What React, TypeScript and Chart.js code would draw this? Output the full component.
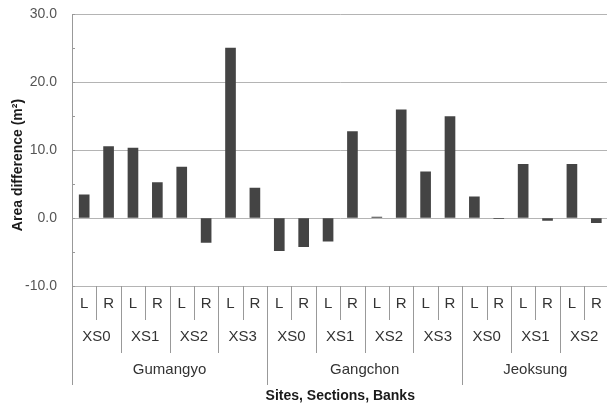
import React, { useEffect, useRef } from "react";
import { Chart, registerables } from "chart.js";

Chart.register(...registerables);

const sites = ["Gumangyo", "Gangchon", "Jeoksung"];
const sections = [
  ["XS0", "XS1", "XS2", "XS3"],
  ["XS0", "XS1", "XS2", "XS3"],
  ["XS0", "XS1", "XS2"],
];
const banks = ["L", "R"];
const values = [
  3.4, 10.5, 10.3, 5.2, 7.5, -3.6, 25.0, 4.4,
  -4.8, -4.2, -3.4, 12.7, 0.15, 15.9, 6.8, 14.9,
  3.1, -0.1, 7.9, -0.35, 7.9, -0.7,
];
const yMin = -10;
const yMax = 30;
const yStep = 5;
const yLabelStep = 10;

const categories: string[] = [];
sites.forEach((s, si) =>
  sections[si].forEach((x) => banks.forEach((b) => categories.push(`${s} ${x} ${b}`)))
);

const FONT = "'Liberation Sans', Arial, sans-serif";

const hierPlugin = {
  id: "hier",
  afterDraw(chart: any) {
    const ctx = chart.ctx as CanvasRenderingContext2D;
    const xs = chart.scales.x;
    const ys = chart.scales.y;
    const a = chart.chartArea;
    const half = (xs.getPixelForValue(1) - xs.getPixelForValue(0)) / 2;
    const edge = (i: number) => Math.round(xs.getPixelForValue(i) - half) + 0.5;
    const center = (i0: number, i1: number) =>
      (xs.getPixelForValue(i0) + xs.getPixelForValue(i1)) / 2;
    const b = a.bottom;
    ctx.save();
    // minor ticks on y axis
    ctx.strokeStyle = "#999";
    ctx.lineWidth = 1;
    for (let v = yMin; v <= yMax; v += yStep) {
      const py = Math.round(ys.getPixelForValue(v)) + 0.5;
      ctx.beginPath();
      ctx.moveTo(a.left, py);
      ctx.lineTo(a.left + 3, py);
      ctx.stroke();
    }
    // separators and labels
    ctx.fillStyle = "#333";
    ctx.textAlign = "center";
    ctx.textBaseline = "middle";
    ctx.font = `15px ${FONT}`;
    let idx = 0;
    const line = (px: number, len: number) => {
      ctx.beginPath();
      ctx.moveTo(px, b);
      ctx.lineTo(px, b + len);
      ctx.stroke();
    };
    sites.forEach((site, si) => {
      const siteStart = idx;
      line(edge(idx), 99);
      sections[si].forEach((sec, xi) => {
        const secStart = idx;
        if (xi > 0) line(edge(idx), 67);
        banks.forEach((bank, bi) => {
          if (bi > 0) line(edge(idx), 34);
          ctx.fillText(bank, xs.getPixelForValue(idx), b + 18);
          idx++;
        });
        ctx.fillText(sec, center(secStart, idx - 1), b + 51);
      });
      ctx.fillText(site, center(siteStart, idx - 1), b + 84);
    });
    line(edge(idx), 99);
    // titles
    ctx.fillStyle = "#1a1a1a";
    ctx.font = `bold 14px ${FONT}`;
    ctx.fillText("Sites, Sections, Banks", (a.left + a.right) / 2, b + 110);
    ctx.translate(18, 165);
    ctx.rotate(-Math.PI / 2);
    ctx.fillText("Area difference (m²)", 0, 0);
    ctx.restore();
  },
};

export default function App() {
  const ref = useRef<HTMLCanvasElement>(null);
  useEffect(() => {
    if (!ref.current) return;
    const chart = new Chart(ref.current, {
      type: "bar",
      data: {
        labels: categories,
        datasets: [
          {
            data: values,
            backgroundColor: "#444444",
            borderWidth: 0,
            barThickness: 10,
          },
        ],
      },
      options: {
        responsive: false,
        animation: false,
        layout: { padding: { top: 14, right: 3.5, bottom: 124, left: 0 } },
        plugins: { legend: { display: false }, tooltip: { enabled: false } },
        scales: {
          x: { display: false },
          y: {
            min: yMin,
            max: yMax,
            afterFit: (s: any) => {
              s.width = 72;
              s.paddingTop = 0;
              s.paddingBottom = 0;
            },
            ticks: {
              stepSize: yStep,
              padding: 15,
              color: "#555",
              font: { family: FONT, size: 14 },
              callback: (v: any) => (Number(v) % yLabelStep === 0 ? Number(v).toFixed(1) : ""),
            },
            grid: {
              drawTicks: false,
              color: (c: any) =>
                c.tick && c.tick.value % yLabelStep === 0 ? "#b4b4b4" : "rgba(0,0,0,0)",
            },
            border: { color: "#999" },
          },
        },
      },
      plugins: [hierPlugin],
    });
    return () => chart.destroy();
  }, []);
  return (
    <div style={{ position: "fixed", left: 0, top: 0, width: 607, height: 410, overflow: "hidden", background: "#fff" }}>
      <canvas ref={ref} width={612} height={410} style={{ display: "block" }} />
    </div>
  );
}
